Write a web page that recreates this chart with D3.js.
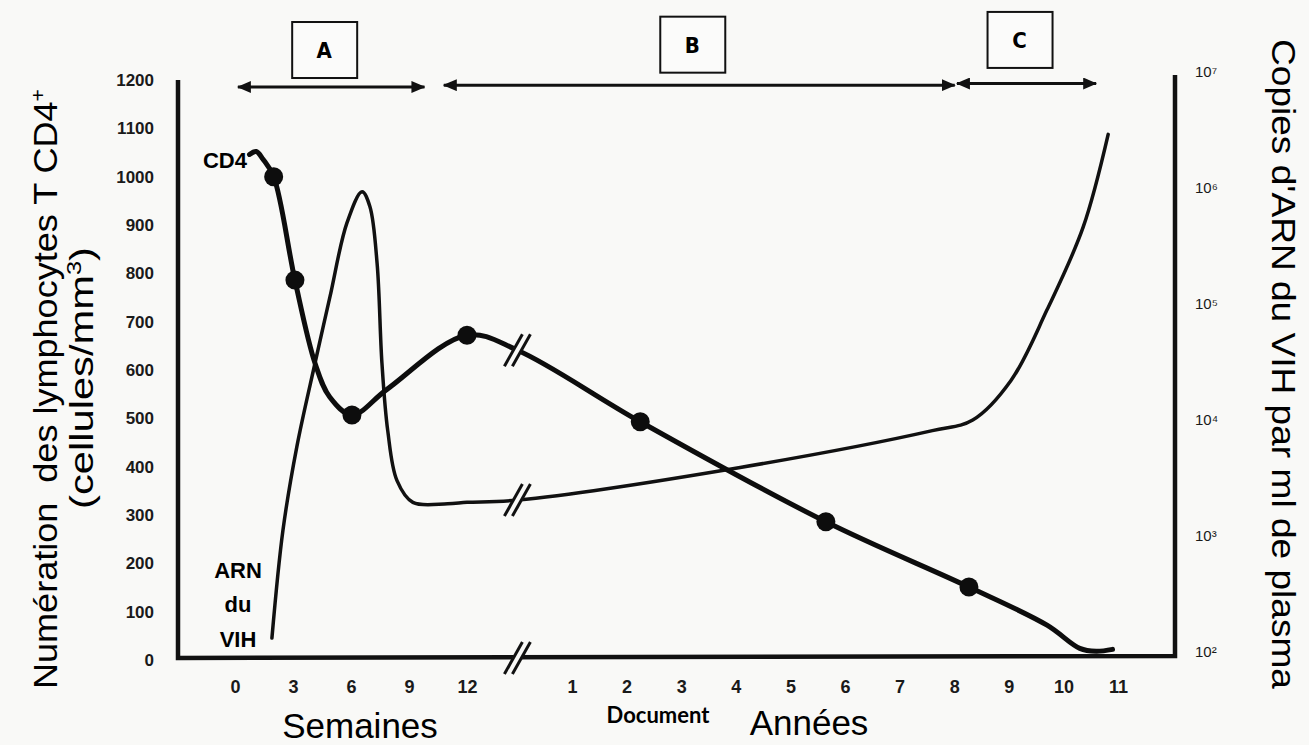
<!DOCTYPE html>
<html>
<head>
<meta charset="utf-8">
<script src="https://cdn.jsdelivr.net/npm/d3@7.9.0/dist/d3.min.js"></script>
<style>
  body { margin: 0; background: #f9f9f7; }
  svg { display: block; font-family: "Liberation Sans", Arial, sans-serif; }
  .tick text { font-weight: bold; fill: #1a1a1a; }
</style>
</head>
<body>
<svg id="chart"></svg>
<script>
// ticks
let weekTicks = [0, 3, 6, 9, 12];
let yearTicks = [1, 2, 3, 4, 5, 6, 7, 8, 9, 10, 11];
let cd4Ticks = [0, 100, 200, 300, 400, 500, 600, 700, 800, 900, 1000, 1100, 1200];
let rnaTicks = [1e2, 1e3, 1e4, 1e5, 1e6, 1e7];

// [segment, time, value]  segment 'w' = semaines, 'y' = années
let cd4Curve = [
    ['w', 0.75, 1046], ['w', 1.1, 1052], ['w', 1.45, 1036], ['w', 2.0, 1000],
    ['w', 3.1, 786], ['w', 4.14, 614], ['w', 4.9, 544], ['w', 6.05, 507],
    ['w', 7.86, 560], ['w', 12, 672],
    ['y', 0, 641], ['y', 2.25, 493], ['y', 5.65, 286],
    ['y', 8.27, 151], ['y', 9.7, 72], ['y', 10.3, 24], ['y', 10.6, 18], ['y', 10.9, 22]
];
let cd4Dots = [
    ['w', 2.0, 1000], ['w', 3.1, 786], ['w', 6.05, 507], ['w', 12, 672],
    ['y', 2.25, 493], ['y', 5.65, 286], ['y', 8.27, 151]
];
let rnaCurve = [
    ['w', 1.91, 132], ['w', 2.48, 1120], ['w', 3.2, 5900], ['w', 4.14, 31000],
    ['w', 4.91, 115000], ['w', 5.79, 500000], ['w', 6.57, 930000], ['w', 6.98, 690000],
    ['w', 7.35, 224000], ['w', 7.6, 31000], ['w', 7.9, 8100], ['w', 8.38, 3000],
    ['w', 9.2, 1950], ['w', 11, 1900], ['w', 12, 1950],
    ['y', 0, 2040], ['y', 4.08, 3900], ['y', 7.6, 8100], ['y', 8.34, 10000],
    ['y', 9.04, 21900], ['y', 9.7, 89000], ['y', 10.36, 457000], ['y', 10.82, 2900000]
];
// phases : label, start, end
let phases = [
    { label: 'A', from: ['w', 0.15], to: ['w', 9.8] },
    { label: 'B', from: ['w', 10.8], to: ['y', 8.01] },
    { label: 'C', from: ['y', 8.05], to: ['y', 10.6] }
];
let breakAt = ['y', 0];

const W = 1309, H = 745;
const BG = '#f9f9f7';
const svg = d3.select('#chart').attr('width', W).attr('height', H);

let xWeeks = d3.scaleLinear().domain([0, 12]).range([235, 467]);
let xYears = d3.scaleLinear().domain([1, 11]).range([572, 1118]);
let yLeft = d3.scaleLinear().domain([0, 1200]).range([660, 80]);
let yRight = d3.scaleLog().domain([1e2, 1e7]).range([652, 72]);

let xPos = (seg, t) => seg === 'w' ? xWeeks(t) : xYears(t);

const axisLeftX = 178, axisRightX = 1175, axisBottomY = 658;

// tick labels
svg.append('g')
    .attr('transform', `translate(${axisLeftX},0)`)
    .call(d3.axisLeft(yLeft).tickValues(cd4Ticks).tickFormat(d3.format('d')).tickSize(0).tickPadding(24))
    .call(g => g.select('.domain').remove())
    .selectAll('text').style('font-size', '17px');

let sup = { 2: '²', 3: '³', 4: '⁴', 5: '⁵', 6: '⁶', 7: '⁷' };
svg.append('g')
    .attr('transform', `translate(${axisRightX},0)`)
    .call(d3.axisRight(yRight).tickValues(rnaTicks).tickSize(0).tickPadding(20)
        .tickFormat(d => '10' + sup[Math.round(Math.log10(d))]))
    .call(g => g.select('.domain').remove())
    .selectAll('text').style('font-size', '15px').style('font-weight', 'normal');

[[xWeeks, weekTicks], [xYears, yearTicks]].forEach(([sc, ticks]) => {
    svg.append('g')
        .attr('transform', `translate(0,${axisBottomY})`)
        .call(d3.axisBottom(sc).tickValues(ticks).tickSize(0).tickPadding(22))
        .call(g => g.select('.domain').remove())
        .selectAll('text').style('font-size', '18px');
});

// axis frame
svg.append('path')
    .attr('d', `M${axisLeftX},80 L${axisLeftX},${axisBottomY} L${axisRightX},${axisBottomY - 2} L${axisRightX},75`)
    .attr('fill', 'none').attr('stroke', '#111').attr('stroke-width', 4.5);

// curves
let line = d3.line().curve(d3.curveCatmullRom.alpha(0.5));

svg.append('path')
    .attr('d', line(rnaCurve.map(d => [xPos(d[0], d[1]), yRight(d[2])])))
    .attr('fill', 'none').attr('stroke', '#111').attr('stroke-width', 3.5)
    .attr('stroke-linecap', 'round');

svg.append('path')
    .attr('d', line(cd4Curve.map(d => [xPos(d[0], d[1]), yLeft(d[2])])))
    .attr('fill', 'none').attr('stroke', '#0d0d0d').attr('stroke-width', 5)
    .attr('stroke-linecap', 'round').attr('stroke-linejoin', 'round');

svg.selectAll('circle.dot')
    .data(cd4Dots)
    .enter()
    .append('circle')
    .attr('class', 'dot')
    .attr('cx', d => xPos(d[0], d[1]))
    .attr('cy', d => yLeft(d[2]))
    .attr('r', 9.5)
    .attr('fill', '#0d0d0d');

// break marks "//"
let bx = xPos(breakAt[0], breakAt[1]);
let cd4Break = cd4Curve.find(d => d[0] === breakAt[0] && d[1] === breakAt[1]);
let rnaBreak = rnaCurve.find(d => d[0] === breakAt[0] && d[1] === breakAt[1]);
[yLeft(cd4Break[2]), yRight(rnaBreak[2]), axisBottomY].forEach(by => {
    let g = svg.append('g').attr('transform', `translate(${bx},${by})`);
    g.append('polygon')
        .attr('points', '-13,15 -3,15 13,-15 3,-15')
        .attr('fill', BG);
    [-4, 4].forEach(dx => {
        g.append('line')
            .attr('x1', dx - 9).attr('y1', 16).attr('x2', dx + 9).attr('y2', -16)
            .attr('stroke', '#111').attr('stroke-width', 3);
    });
});

// phase arrows and boxes
let defs = svg.append('defs');
defs.append('marker')
    .attr('id', 'head')
    .attr('viewBox', '0 0 14 12')
    .attr('refX', 13).attr('refY', 6)
    .attr('markerWidth', 14).attr('markerHeight', 12)
    .attr('markerUnits', 'userSpaceOnUse')
    .attr('orient', 'auto-start-reverse')
    .append('path').attr('d', 'M0,0 L14,6 L0,12 Z').attr('fill', '#111');

phases.forEach(p => {
    let x1 = xPos(p.from[0], p.from[1]), x2 = xPos(p.to[0], p.to[1]);
    let ay = 87 - (x1 + x2 - 660) / 2 * 0.005;
    svg.append('line')
        .attr('x1', x1).attr('x2', x2).attr('y1', ay).attr('y2', ay)
        .attr('stroke', '#111').attr('stroke-width', 3)
        .attr('marker-start', 'url(#head)').attr('marker-end', 'url(#head)');
    let cx = (x1 + x2) / 2 - 7;
    let top = 22 - (cx - 325) * 0.0145;
    svg.append('rect')
        .attr('x', cx - 32).attr('y', top).attr('width', 65).attr('height', 56)
        .attr('fill', '#fbfbfa').attr('stroke', '#111').attr('stroke-width', 2);
    svg.append('text')
        .attr('x', cx).attr('y', top + 36)
        .attr('text-anchor', 'middle')
        .style('font-family', '"Liberation Sans Narrow", "DejaVu Sans Condensed", sans-serif')
        .style('font-weight', 'bold').style('font-size', '22px')
        .text(p.label);
});

// curve labels
svg.append('text')
    .attr('x', 247).attr('y', 168).attr('text-anchor', 'end')
    .style('font-weight', 'bold').style('font-size', '22px')
    .text('CD4');

['ARN', 'du', 'VIH'].forEach((t, i) => {
    svg.append('text')
        .attr('x', 238).attr('y', [578, 612, 647][i]).attr('text-anchor', 'middle')
        .style('font-weight', 'bold').style('font-size', '22px')
        .text(t);
});

// axis titles
svg.append('text')
    .attr('transform', 'translate(57,389) rotate(-90)')
    .attr('text-anchor', 'middle')
    .attr('textLength', 600).attr('lengthAdjust', 'spacingAndGlyphs')
    .style('font-size', '34px')
    .html('Numération&#160;&#160;des lymphocytes T CD4<tspan dy="-12" font-size="20">+</tspan>');

svg.append('text')
    .attr('transform', 'translate(93,378) rotate(-90)')
    .attr('text-anchor', 'middle')
    .attr('textLength', 262).attr('lengthAdjust', 'spacingAndGlyphs')
    .style('font-size', '33px')
    .html('(cellules/mm<tspan dy="-12" font-size="20">3</tspan><tspan dy="12">)</tspan>');

svg.append('text')
    .attr('transform', 'translate(1272,364) rotate(90)')
    .attr('text-anchor', 'middle')
    .attr('textLength', 650).attr('lengthAdjust', 'spacingAndGlyphs')
    .style('font-size', '34px')
    .text("Copies d'ARN du VIH par ml de plasma");

svg.append('text')
    .attr('x', 360).attr('y', 738).attr('text-anchor', 'middle')
    .style('font-size', '35px')
    .text('Semaines');

svg.append('text')
    .attr('x', 809).attr('y', 735).attr('text-anchor', 'middle')
    .style('font-size', '35px')
    .text('Années');

svg.append('text')
    .attr('x', 658).attr('y', 723).attr('text-anchor', 'middle')
    .style('font-family', 'Lato, "Open Sans", sans-serif')
    .style('font-weight', 'bold').style('font-size', '22px')
    .text('Document');
</script>
</body>
</html>
